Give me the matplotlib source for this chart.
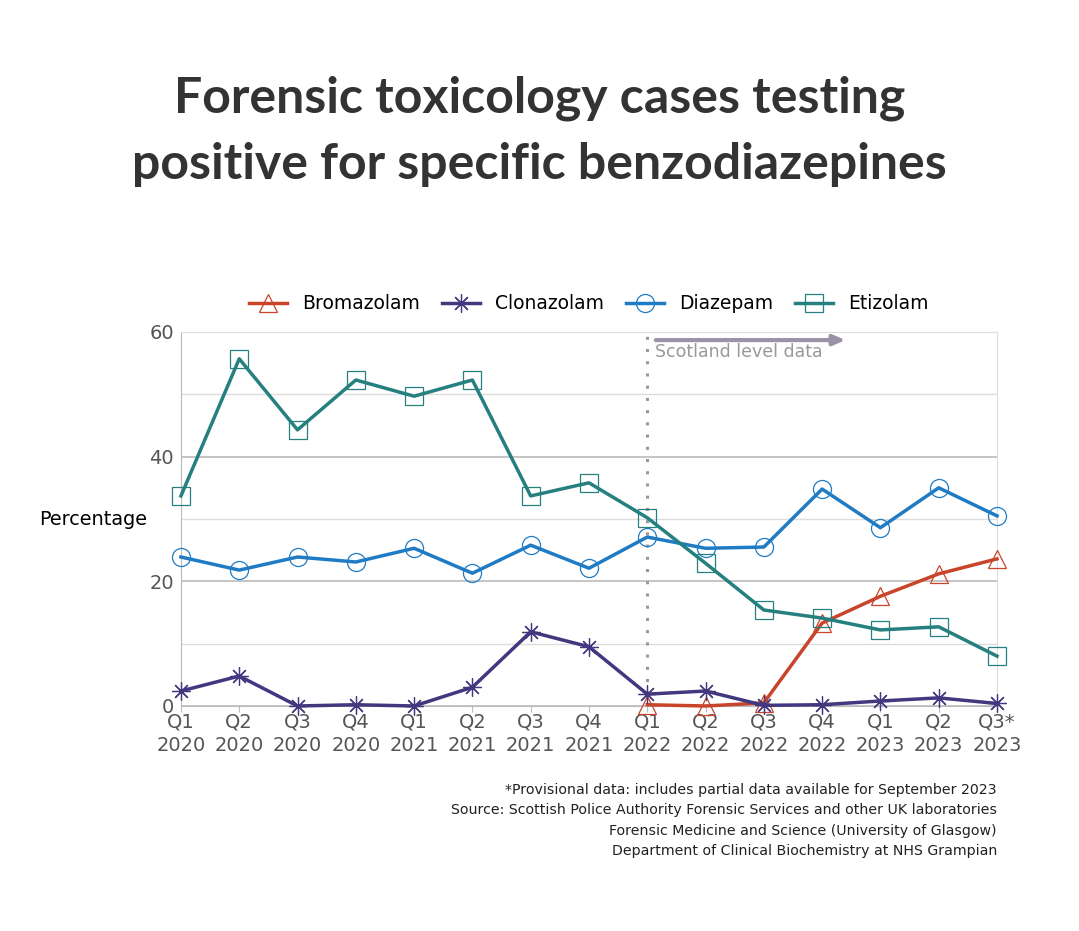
import matplotlib.pyplot as plt
import numpy as np

quarters = ['Q1\n2020', 'Q2\n2020', 'Q3\n2020', 'Q4\n2020',
            'Q1\n2021', 'Q2\n2021', 'Q3\n2021', 'Q4\n2021',
            'Q1\n2022', 'Q2\n2022', 'Q3\n2022', 'Q4\n2022',
            'Q1\n2023', 'Q2\n2023', 'Q3*\n2023']

# bromazolam only reported from Q1 2022
bromazolam = [np.nan] * 8 + [0.2, 0.0, 0.5, 13.3, 17.6, 21.2, 23.6]
clonazolam = [2.4, 4.8, 0.0, 0.2, 0.0, 3.0, 11.9, 9.5, 1.9, 2.4, 0.1, 0.2, 0.8, 1.3, 0.4]
diazepam = [23.9, 21.8, 23.9, 23.1, 25.3, 21.3, 25.8, 22.1, 27.1, 25.3, 25.5, 34.8, 28.6, 35.0, 30.5]
etizolam = [33.7, 55.7, 44.3, 52.3, 49.7, 52.3, 33.7, 35.8, 30.2, 22.9, 15.4, 14.1, 12.2, 12.7, 8.0]

notes = ['*Provisional data: includes partial data available for September 2023',
         'Source: Scottish Police Authority Forensic Services and other UK laboratories',
         'Forensic Medicine and Science (University of Glasgow)',
         'Department of Clinical Biochemistry at NHS Grampian']

x = np.arange(len(quarters))

fig = plt.figure(figsize=(10.79, 9.31), dpi=100)
ax = fig.add_axes([0.1677, 0.2417, 0.7563, 0.4017])

series = [('Bromazolam', bromazolam, '#c8452b', '^'),
          ('Clonazolam', clonazolam, '#41387f', (8, 2, 0)),
          ('Diazepam', diazepam, '#1f7bc4', 'o'),
          ('Etizolam', etizolam, '#25807f', 's')]
for name, vals, col, mk in series:
    ax.plot(x, vals, color=col, lw=2.5, marker=mk, ms=13, mfc='none',
            mec=col, mew=0.9, label=name, clip_on=False, zorder=3)

ax.set_xlim(0, len(quarters) - 1)
ax.set_ylim(0, 60)
ax.set_xticks(x)
ax.set_xticklabels(quarters, fontsize=14, color='#555555', linespacing=1.3)
ax.set_yticks([0, 20, 40, 60])
ax.set_yticks([10, 30, 50], minor=True)
ax.tick_params(axis='y', which='both', length=0, labelsize=14, labelcolor='#555555', pad=5)
ax.tick_params(axis='x', length=4, color='#bbbbbb', pad=1)
ax.grid(axis='y', which='major', color='#bbbbbb', lw=1.2)
ax.grid(axis='y', which='minor', color='#dddddd', lw=1.0)
for s in ['top', 'right']:
    ax.spines[s].set_color('#dddddd')
for s in ['left', 'bottom']:
    ax.spines[s].set_color('#bbbbbb')
ax.set_axisbelow(True)

# start of Scotland level data
ax.axvline(8, color='#999999', ls=(0, (1, 3)), lw=2.2, zorder=1)
ax.annotate('', xy=(11.45, 58.7), xytext=(8.1, 58.7),
            arrowprops=dict(arrowstyle='-|>,head_length=0.7,head_width=0.3', color='#9a93a8', lw=3))
ax.text(8.13, 56.8, 'Scotland level data', color='#999999', fontsize=12.5, va='center', ha='left')

fig.text(0.0367, 0.442, 'Percentage', fontsize=13.9, va='center', ha='left')

ax.legend(loc='lower center', bbox_to_anchor=(0.5, 1.005), ncol=4, frameon=False,
          fontsize=13.5, handlelength=2.0, columnspacing=1.2, handletextpad=0.8)

fig.text(0.5, 0.859, 'Forensic toxicology cases testing\npositive for specific benzodiazepines',
         ha='center', va='center', fontsize=36, fontweight='bold', family='Lato',
         color='#333333', linespacing=1.55)

for i, line in enumerate(notes):
    fig.text(0.924, 0.1515 - i * 0.0218, line, ha='right', va='center', fontsize=10.15, color='#222222')

fig.savefig('out.png', dpi=100, facecolor='white')
